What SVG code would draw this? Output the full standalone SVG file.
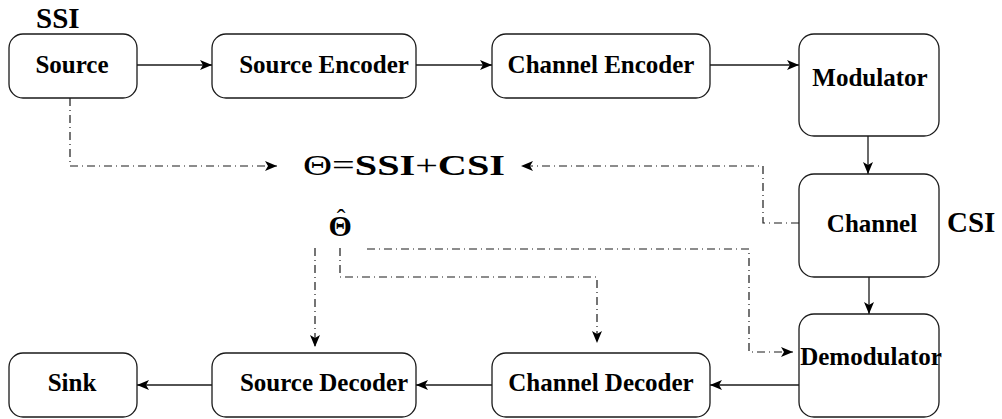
<svg xmlns="http://www.w3.org/2000/svg" width="1002" height="419" viewBox="0 0 1002 419">
  <style>
    .box { fill: #ffffff; stroke: #1a1a1a; stroke-width: 1.3; }
    .lbl { font-family: 'Liberation Serif', 'DejaVu Serif', serif; font-weight: 700; font-size: 25px; fill: #000; text-anchor: middle; }
    .big { font-family: 'Liberation Serif', 'DejaVu Serif', serif; font-weight: 700; font-size: 29px; fill: #000; }
    .math { font-family: 'Liberation Serif', 'DejaVu Serif', serif; font-size: 30px; fill: #000; }
    .flow { fill: none; stroke: #1a1a1a; stroke-width: 1.3; marker-end: url(#arrow); }
    .info { fill: none; stroke: #1a1a1a; stroke-width: 1.2; stroke-dasharray: 8 4 1 4; marker-end: url(#arrow); }
  </style>
  <defs>
    <marker id="arrow" viewBox="0 0 12 10" refX="12" refY="5" markerWidth="12" markerHeight="10" markerUnits="userSpaceOnUse" orient="auto">
      <path d="M0,0 L12,5 L0,10 L3,5 Z" fill="#000"/>
    </marker>
  </defs>
  <rect width="1002" height="419" fill="#ffffff"/>

  <!-- solid signal path and dash-dot side information -->
  <g id="connectors">
    <line class="flow" x1="137" y1="65" x2="212" y2="65"/>
    <line class="flow" x1="416" y1="65" x2="492" y2="65"/>
    <line class="flow" x1="710" y1="65" x2="799" y2="65"/>
    <line class="flow" x1="868" y1="136" x2="868" y2="174"/>
    <line class="flow" x1="869" y1="277" x2="869" y2="314"/>
    <line class="flow" x1="799" y1="385" x2="710" y2="385"/>
    <line class="flow" x1="492" y1="385" x2="416" y2="385"/>
    <line class="flow" x1="212" y1="385" x2="137" y2="385"/>

    <polyline class="info" points="70,98 70,166 277,166"/>
    <polyline class="info" points="799,223 763,223 763,166 521,166"/>
    <line class="info" x1="315" y1="248" x2="315" y2="347"/>
    <polyline class="info" points="340,248 340,277 597,277 597,343"/>
    <polyline class="info" points="367,249 749,249 749,352 793,352"/>
  </g>

  <g id="source">
    <rect class="box" x="9" y="34" width="128" height="64" rx="14"/>
    <text class="lbl" x="72" y="73">Source</text>
  </g>
  <g id="source-encoder">
    <rect class="box" x="212" y="34" width="204" height="64" rx="14"/>
    <text class="lbl" x="324" y="73">Source Encoder</text>
  </g>
  <g id="channel-encoder">
    <rect class="box" x="492" y="34" width="218" height="64" rx="14"/>
    <text class="lbl" x="601" y="73">Channel Encoder</text>
  </g>
  <g id="modulator">
    <rect class="box" x="799" y="34" width="140" height="102" rx="15"/>
    <text class="lbl" x="870" y="86">Modulator</text>
  </g>
  <g id="channel">
    <rect class="box" x="799" y="174" width="140" height="103" rx="15"/>
    <text class="lbl" x="872" y="232">Channel</text>
  </g>
  <g id="demodulator">
    <rect class="box" x="799" y="314" width="140" height="103" rx="15"/>
    <text class="lbl" x="871" y="365">Demodulator</text>
  </g>
  <g id="channel-decoder">
    <rect class="box" x="492" y="353" width="218" height="64" rx="14"/>
    <text class="lbl" x="601" y="391">Channel Decoder</text>
  </g>
  <g id="source-decoder">
    <rect class="box" x="212" y="353" width="204" height="64" rx="14"/>
    <text class="lbl" x="324" y="391">Source Decoder</text>
  </g>
  <g id="sink">
    <rect class="box" x="9" y="353" width="128" height="64" rx="14"/>
    <text class="lbl" x="72" y="391">Sink</text>
  </g>

  <g id="annotations">
    <text class="big" x="36" y="28">SSI</text>
    <text class="big" x="947" y="232">CSI</text>
    <text class="math" x="303" y="175" textLength="202" lengthAdjust="spacingAndGlyphs">Θ=<tspan font-weight="700">SSI</tspan>+<tspan font-weight="700">CSI</tspan></text>
    <!-- estimate symbol: theta with a circumflex set back over it -->
    <text class="math" x="328.6" y="236" font-weight="700" font-size="28">Θ<tspan font-weight="400" font-size="26" dx="-15.2" dy="-9">ˆ</tspan></text>
  </g>
</svg>
